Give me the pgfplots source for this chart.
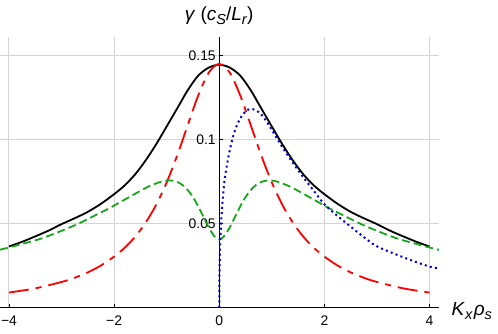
\documentclass[border=0pt]{standalone}
\usepackage{fontspec}
\setmainfont{Liberation Sans}
\usepackage{pgfplots}
\pgfplotsset{compat=1.18}
\definecolor{mgreen}{RGB}{25,165,25}
\definecolor{mblue}{RGB}{0,0,200}
\definecolor{gridgray}{RGB}{212,212,212}
\newcommand{\sub}[1]{\raisebox{-0.22em}{\fontsize{14.5bp}{16bp}\selectfont\textit{#1}}}

\begin{document}
\begin{tikzpicture}
\begin{axis}[
    scale only axis, width=439bp, height=270.7bp,
    xmin=-4.17, xmax=4.18, ymin=0, ymax=0.161,
    axis lines=middle, axis line style={-, line width=1bp},
    hide obscured x ticks=false,
    xtick={-4,-2,0,2,4}, xticklabels={−4,−2,0,2,4},
    ytick={0.05,0.1,0.15}, yticklabels={0.05,0.1,0.15},
    grid=major, grid style={gridgray, line width=0.9bp},
    tick align=inside, major tick length=4bp, tick style={black, line width=0.8bp},
    ticklabel style={font=\fontsize{13.9bp}{16bp}\selectfont},
    xticklabel style={yshift=-5bp, inner xsep=0pt},
    xlabel={\textit{K}\sub{x}\kern1bp\textit{ρ}\sub{s}},
    ylabel={\textit{γ} (\textit{c}\sub{S}/\textit{L}\sub{r})},
    every axis x label/.style={at={(axis description cs:1,0)}, anchor=base west,
        xshift=12.5bp, yshift=-7.3bp, inner sep=0pt, font=\fontsize{19bp}{21bp}\selectfont},
    every axis y label/.style={at={(axis description cs:0.4994,1)}, anchor=south,
        yshift=12bp, inner sep=0pt, font=\fontsize{19bp}{21bp}\selectfont},
]
% black solid
\addplot[black, line width=1.8bp, smooth] coordinates {
(-4.0,0.0364) (-3.75,0.0392) (-3.5,0.0424) (-3.25,0.0458) (-3.0,0.0497) (-2.75,0.0532)
(-2.5,0.0570) (-2.25,0.0618) (-2.0,0.0675) (-1.8,0.0727) (-1.6,0.0793) (-1.4,0.0876)
(-1.2,0.0972) (-1.0,0.1078) (-0.8,0.1185) (-0.6,0.1293) (-0.4,0.1380) (-0.2,0.1428)
(0,0.1445)
(0.2,0.1428) (0.4,0.1380) (0.6,0.1293) (0.8,0.1185) (1.0,0.1078) (1.2,0.0972)
(1.4,0.0876) (1.6,0.0793) (1.8,0.0727) (2.0,0.0675) (2.25,0.0618) (2.5,0.0570)
(2.75,0.0532) (3.0,0.0497) (3.25,0.0458) (3.5,0.0424) (3.75,0.0392) (4.0,0.0364)
};
% red dash-dot
\addplot[red, line width=1.8bp, smooth, dash pattern=on 20bp off 7bp on 6bp off 7bp] coordinates {
(-4.0,0.0090) (-3.5,0.0115) (-3.0,0.0153) (-2.75,0.0178) (-2.5,0.0210) (-2.25,0.0251)
(-2.0,0.0304) (-1.8,0.0356) (-1.6,0.0422) (-1.4,0.0506) (-1.2,0.0612) (-1.0,0.0745)
(-0.8,0.0905) (-0.6,0.1085) (-0.4,0.1262) (-0.2,0.1398) (0,0.1450)
(0.2,0.1398) (0.4,0.1262) (0.6,0.1085) (0.8,0.0905) (1.0,0.0745) (1.2,0.0612)
(1.4,0.0506) (1.6,0.0422) (1.8,0.0356) (2.0,0.0304) (2.25,0.0251) (2.5,0.0210)
(2.75,0.0178) (3.0,0.0153) (3.5,0.0115) (4.0,0.0090)
};
% green dashed
\addplot[mgreen, line width=1.8bp, smooth, dash pattern=on 8bp off 4bp] coordinates {
(-4.17,0.0345) (-4.0,0.0358) (-3.8,0.0375) (-3.4,0.0410) (-3.0,0.0457) (-2.7,0.0497)
(-2.4,0.0543) (-2.1,0.0590) (-1.9,0.0625) (-1.7,0.0660) (-1.5,0.0695) (-1.3,0.0727)
(-1.1,0.0750) (-1.0,0.0756) (-0.9,0.0756) (-0.8,0.0748) (-0.7,0.0730) (-0.6,0.0700)
(-0.5,0.0658) (-0.4,0.0603) (-0.3,0.0540) (-0.2,0.0478) (-0.1,0.0428) (0,0.0405)
(0.1,0.0428) (0.2,0.0478) (0.3,0.0540) (0.4,0.0603) (0.5,0.0658) (0.6,0.0700)
(0.7,0.0730) (0.8,0.0748) (0.9,0.0756) (1.0,0.0756) (1.1,0.0750) (1.3,0.0727)
(1.5,0.0695) (1.7,0.0660) (1.9,0.0625) (2.1,0.0590) (2.4,0.0543) (2.7,0.0497)
(3.0,0.0457) (3.4,0.0410) (3.8,0.0375) (4.0,0.0358) (4.18,0.0344)
};
% blue dotted
\addplot[mblue, line width=2bp, smooth, dash pattern=on 2bp off 3.2bp] coordinates {
(0,0) (0.005,0.020) (0.015,0.035) (0.03,0.047) (0.06,0.062) (0.1,0.0755)
(0.15,0.0855) (0.2,0.0935) (0.27,0.1025) (0.35,0.1095) (0.45,0.1150) (0.55,0.1178)
(0.65,0.1180) (0.75,0.1163) (0.85,0.1130) (1.0,0.1058) (1.2,0.0955) (1.4,0.0862)
(1.6,0.0775) (1.8,0.0695) (2.0,0.0615) (2.25,0.0545) (2.5,0.0482) (2.75,0.0420)
(3.0,0.0365) (3.5,0.0300) (4.0,0.0244) (4.18,0.0236)
};
\end{axis}
\pgfresetboundingbox
\path ([yshift=-26.3bp]current axis.south west) rectangle ([xshift=59bp,yshift=37bp]current axis.north east);
\end{tikzpicture}
\end{document}
